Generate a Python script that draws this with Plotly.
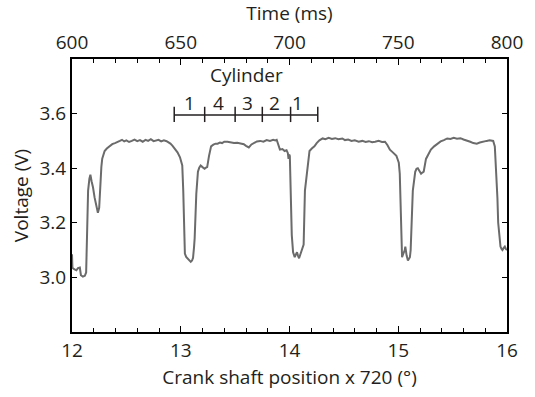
import plotly.graph_objects as go

# ---- data ----
crank = [
    12.000, 12.004, 12.020, 12.040, 12.055, 12.072, 12.082, 12.100, 12.118, 12.130,
    12.138, 12.148, 12.160, 12.169, 12.180, 12.193, 12.208, 12.223, 12.238, 12.250,
    12.260, 12.270, 12.278, 12.290, 12.300, 12.320, 12.344, 12.370, 12.395, 12.416,
    12.440, 12.460, 12.480, 12.500, 12.525, 12.550, 12.575, 12.600, 12.625, 12.650,
    12.676, 12.700, 12.725, 12.750, 12.775, 12.796, 12.820, 12.845, 12.870, 12.887,
    12.905, 12.925, 12.947, 12.970, 12.993, 13.005, 13.014, 13.023, 13.032, 13.038,
    13.050, 13.068, 13.080, 13.092, 13.104, 13.113, 13.122, 13.128, 13.143, 13.158,
    13.170, 13.183, 13.200, 13.219, 13.232, 13.243, 13.260, 13.279, 13.300, 13.320,
    13.339, 13.360, 13.380, 13.400, 13.430, 13.460, 13.490, 13.520, 13.550, 13.580,
    13.600, 13.626, 13.650, 13.675, 13.700, 13.731, 13.760, 13.790, 13.820, 13.850,
    13.870, 13.882, 13.895, 13.912, 13.935, 13.955, 13.973, 13.985, 13.991, 13.997,
    14.003, 14.012, 14.021, 14.033, 14.048, 14.060, 14.069, 14.078, 14.088, 14.098,
    14.108, 14.120, 14.130, 14.142, 14.160, 14.172, 14.184, 14.205, 14.229, 14.250,
    14.275, 14.305, 14.330, 14.360, 14.390, 14.420, 14.450, 14.486, 14.510, 14.540,
    14.570, 14.600, 14.636, 14.670, 14.700, 14.730, 14.760, 14.787, 14.820, 14.850,
    14.878, 14.900, 14.923, 14.950, 14.970, 14.983, 14.995, 15.005, 15.014, 15.020,
    15.026, 15.035, 15.045, 15.052, 15.060, 15.065, 15.071, 15.077, 15.089, 15.100,
    15.107, 15.114, 15.119, 15.134, 15.156, 15.168, 15.180, 15.195, 15.210, 15.222,
    15.234, 15.255, 15.275, 15.300, 15.330, 15.360, 15.390, 15.420, 15.450, 15.480,
    15.510, 15.540, 15.572, 15.600, 15.630, 15.662, 15.690, 15.722, 15.750, 15.780,
    15.813, 15.840, 15.873, 15.888, 15.896, 15.903, 15.912, 15.919, 15.930, 15.940,
    15.950, 15.958, 15.970, 15.980, 15.990, 16.000,
]
voltage = [
    3.085, 3.035, 3.030, 3.026, 3.034, 3.036, 3.008, 3.003, 3.006, 3.018,
    3.150, 3.318, 3.362, 3.376, 3.352, 3.330, 3.292, 3.262, 3.237, 3.255,
    3.340, 3.405, 3.435, 3.455, 3.463, 3.472, 3.480, 3.488, 3.492, 3.497,
    3.500, 3.504, 3.498, 3.502, 3.496, 3.500, 3.505, 3.499, 3.503, 3.497,
    3.504, 3.500, 3.506, 3.499, 3.503, 3.504, 3.498, 3.502, 3.499, 3.495,
    3.490, 3.482, 3.472, 3.458, 3.440, 3.425, 3.410, 3.318, 3.156, 3.087,
    3.075, 3.068, 3.062, 3.057, 3.062, 3.072, 3.110, 3.144, 3.306, 3.387,
    3.402, 3.410, 3.404, 3.398, 3.402, 3.404, 3.445, 3.480, 3.486, 3.490,
    3.490, 3.494, 3.492, 3.497, 3.497, 3.495, 3.492, 3.493, 3.490, 3.488,
    3.482, 3.476, 3.487, 3.494, 3.498, 3.500, 3.497, 3.503, 3.500, 3.504,
    3.502, 3.504, 3.490, 3.468, 3.470, 3.463, 3.466, 3.455, 3.434, 3.450,
    3.445, 3.318, 3.155, 3.092, 3.074, 3.085, 3.092, 3.080, 3.070, 3.082,
    3.092, 3.104, 3.120, 3.318, 3.376, 3.430, 3.463, 3.472, 3.480, 3.492,
    3.502, 3.509, 3.506, 3.511, 3.507, 3.510, 3.506, 3.509, 3.503, 3.505,
    3.500, 3.502, 3.497, 3.500, 3.496, 3.499, 3.495, 3.497, 3.500, 3.496,
    3.497, 3.485, 3.468, 3.458, 3.450, 3.445, 3.432, 3.420, 3.380, 3.260,
    3.120, 3.074, 3.085, 3.092, 3.100, 3.113, 3.095, 3.080, 3.062, 3.068,
    3.074, 3.100, 3.144, 3.318, 3.387, 3.398, 3.400, 3.392, 3.380, 3.384,
    3.387, 3.434, 3.452, 3.468, 3.480, 3.490, 3.498, 3.503, 3.509, 3.507,
    3.511, 3.508, 3.510, 3.505, 3.502, 3.497, 3.492, 3.490, 3.494, 3.498,
    3.500, 3.502, 3.500, 3.480, 3.430, 3.376, 3.290, 3.200, 3.140, 3.113,
    3.104, 3.100, 3.108, 3.113, 3.104, 3.100,
]

time_range = [600, 800]
crank_range = [12, 16]
volt_range = [2.8, 3.8]
y_ticks = [3.0, 3.2, 3.4, 3.6]

cyl_ticks = [12.94, 13.22, 13.50, 13.75, 14.01, 14.26]
cyl_labels = ["1", "4", "3", "2", "1"]
cyl_label_x = [13.08, 13.35, 13.61, 13.86, 14.07]
cyl_line_y = 3.595
cyl_title = "Cylinder"

FONT = "Open Sans"
TXT = "#231f20"
FS = 19

fig = go.Figure()
fig.add_trace(go.Scatter(
    x=crank, y=voltage, mode="lines",
    line=dict(color="#6b6b6b", width=2),
    showlegend=False, hoverinfo="skip",
))
fig.add_trace(go.Scatter(
    x=time_range, y=[None, None], xaxis="x2", yaxis="y",
    mode="lines", showlegend=False, hoverinfo="skip",
))

# cylinder bracket
shapes = [dict(type="line", xref="x", yref="y",
               x0=cyl_ticks[0], x1=cyl_ticks[-1], y0=cyl_line_y, y1=cyl_line_y,
               line=dict(color=TXT, width=1.5))]
for t in cyl_ticks:
    shapes.append(dict(type="line", xref="x", yref="y",
                       x0=t, x1=t, y0=cyl_line_y - 0.026, y1=cyl_line_y + 0.03,
                       line=dict(color=TXT, width=1.5)))

annotations = []
for lx, lab in zip(cyl_label_x, cyl_labels):
    annotations.append(dict(x=lx, y=cyl_line_y - 0.006, xref="x", yref="y",
                            text=lab, showarrow=False, yanchor="bottom", borderpad=0,
                            font=dict(family=FONT, size=FS, color=TXT)))
annotations.append(dict(x=(cyl_ticks[0] + cyl_ticks[-1]) / 2, y=3.742, xref="x", yref="y",
                        text=cyl_title, showarrow=False, yanchor="middle", borderpad=0,
                        font=dict(family=FONT, size=FS, color=TXT)))

axis_common = dict(
    showline=True, linecolor="black", linewidth=2,
    ticks="inside", tickcolor="black", tickwidth=1.2,
    showgrid=False, zeroline=False,
    tickfont=dict(family=FONT, size=FS, color=TXT),
)

fig.update_layout(
    width=535, height=397,
    margin=dict(l=72, r=21, t=57, b=52),
    paper_bgcolor="white", plot_bgcolor="white",
    font=dict(family=FONT, size=FS, color=TXT),
    shapes=shapes, annotations=annotations,
    xaxis=dict(**axis_common, range=crank_range, dtick=1, tick0=12, ticklen=6,
               minor=dict(dtick=0.2, ticklen=4, ticks="inside", tickcolor="black", showgrid=False),
               title=dict(text="Crank shaft position x 720 (°)", standoff=9,
                          font=dict(family=FONT, size=FS, color=TXT))),
    xaxis2=dict(**axis_common, range=time_range, dtick=50, tick0=600, ticklen=6,
                overlaying="x", side="top", anchor="y",
                minor=dict(dtick=10, ticklen=4, ticks="inside", tickcolor="black", showgrid=False),
                title=dict(text="Time (ms)", standoff=4,
                           font=dict(family=FONT, size=FS, color=TXT))),
    yaxis=dict(**axis_common, range=volt_range, tickvals=y_ticks, tickformat=".1f",
               ticklen=5, mirror="ticks",
               title=dict(text="Voltage (V)", standoff=6,
                          font=dict(family=FONT, size=FS, color=TXT))),
)

fig.write_html("out.html")
